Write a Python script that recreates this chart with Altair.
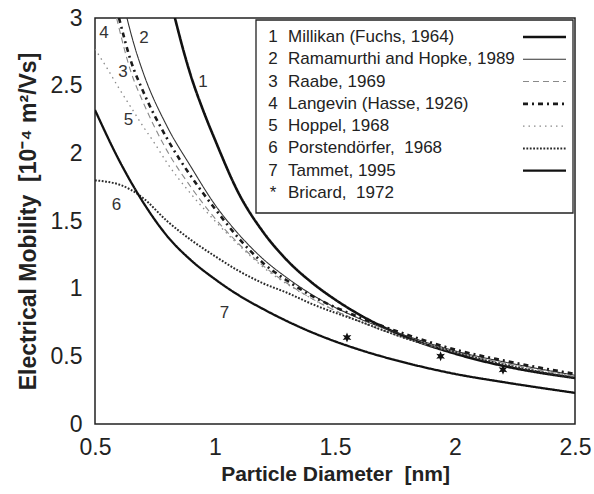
import altair as alt
import pandas as pd

FONT = "Liberation Sans"
NB = "\u00a0"

# ---- data ----
series_names = ["Millikan", "Ramamurthi", "Raabe", "Langevin", "Hoppel", "Porstendorfer", "Tammet"]

millikan_d = [0.833, 0.87, 0.9, 0.95, 1.0, 1.1, 1.2, 1.3, 1.4, 1.5, 1.6, 1.8, 2.0, 2.2, 2.5]
millikan_m = [3.0, 2.75, 2.57, 2.32, 2.10, 1.70, 1.42, 1.21, 1.05, 0.92, 0.81, 0.64, 0.52, 0.43, 0.34]

ramamurthi_d = [0.633, 0.66, 0.7, 0.8, 0.9, 1.0, 1.1, 1.2, 1.3, 1.4, 1.6, 1.8, 2.0, 2.2, 2.5]
ramamurthi_m = [3.0, 2.82, 2.60, 2.20, 1.90, 1.62, 1.40, 1.22, 1.08, 0.96, 0.78, 0.65, 0.54, 0.46, 0.36]

raabe_d = [0.59, 0.65, 0.7, 0.8, 0.9, 1.0, 1.1, 1.2, 1.3, 1.4, 1.6, 1.8, 2.0, 2.2, 2.5]
raabe_m = [3.0, 2.60, 2.38, 2.02, 1.75, 1.52, 1.33, 1.17, 1.04, 0.93, 0.76, 0.63, 0.53, 0.45, 0.35]

langevin_d = [0.6, 0.65, 0.7, 0.8, 0.9, 1.0, 1.1, 1.2, 1.3, 1.4, 1.6, 1.8, 2.0, 2.2, 2.5]
langevin_m = [3.0, 2.68, 2.46, 2.11, 1.83, 1.59, 1.37, 1.19, 1.06, 0.95, 0.79, 0.66, 0.55, 0.47, 0.37]

hoppel_d = [0.5, 0.55, 0.6, 0.65, 0.7, 0.75, 0.8, 0.9, 1.0, 1.1, 1.2, 1.4, 1.6, 1.8, 2.0, 2.2, 2.5]
hoppel_m = [2.77, 2.63, 2.48, 2.34, 2.20, 2.07, 1.93, 1.70, 1.50, 1.32, 1.16, 0.93, 0.76, 0.63, 0.53, 0.45, 0.35]

porst_d = [0.5, 0.55, 0.6, 0.65, 0.7, 0.8, 0.9, 1.0, 1.1, 1.2, 1.3, 1.4, 1.6, 1.8, 2.0, 2.2, 2.5]
porst_m = [1.80, 1.79, 1.77, 1.73, 1.67, 1.50, 1.36, 1.24, 1.13, 1.04, 0.97, 0.89, 0.76, 0.63, 0.53, 0.44, 0.34]

tammet_d = [0.5, 0.6, 0.7, 0.8, 0.9, 1.0, 1.1, 1.2, 1.3, 1.4, 1.6, 1.8, 2.0, 2.2, 2.5]
tammet_m = [2.32, 1.95, 1.64, 1.39, 1.21, 1.07, 0.95, 0.85, 0.76, 0.68, 0.55, 0.45, 0.37, 0.31, 0.23]

bricard_d = [1.55, 1.94, 2.2]
bricard_m = [0.64, 0.50, 0.40]

curve_label_text = ["1", "2", "3", "4", "5", "6", "7"]
curve_label_d = [0.95, 0.704, 0.617, 0.537, 0.639, 0.59, 1.04]
curve_label_m = [2.53, 2.85, 2.60, 2.89, 2.25, 1.62, 0.82]

legend_nums = ["1", "2", "3", "4", "5", "6", "7", "*"]
legend_labels = ["Millikan (Fuchs, 1964)", "Ramamurthi and Hopke, 1989", "Raabe, 1969",
                 "Langevin (Hasse, 1926)", "Hoppel, 1968", "Porstendörfer," + NB + " 1968",
                 "Tammet, 1995", "Bricard," + NB + " 1972"]

x_ticks = [0.5, 1, 1.5, 2, 2.5]
y_ticks = [0, 0.5, 1, 1.5, 2, 2.5, 3]

# ---- tables ----
all_d = [millikan_d, ramamurthi_d, raabe_d, langevin_d, hoppel_d, porst_d, tammet_d]
all_m = [millikan_m, ramamurthi_m, raabe_m, langevin_m, hoppel_m, porst_m, tammet_m]
rows = []
for name, ds, ms in zip(series_names, all_d, all_m):
    for i, (d, m) in enumerate(zip(ds, ms)):
        rows.append({"series": name, "d": d, "m": m, "o": i})
curves = pd.DataFrame(rows)
stars = pd.DataFrame({"d": bricard_d, "m": bricard_m})
labels = pd.DataFrame({"d": curve_label_d, "m": curve_label_m, "t": curve_label_text})
leg = pd.DataFrame({"row": list(range(len(legend_nums))), "num": legend_nums, "label": legend_labels})
leg_lines = pd.DataFrame({"row": list(range(len(series_names))), "series": series_names})

# ---- styles ----
dash_scale = alt.Scale(domain=series_names,
                       range=[[1, 0], [1, 0], [6, 4], [5, 4, 2, 4], [1.5, 4], [1.8, 1.6], [1, 0]])
width_scale = alt.Scale(type="ordinal", domain=series_names, range=[2.6, 1.1, 1.1, 2.6, 1.3, 2.0, 2.3])
color_scale = alt.Scale(domain=series_names,
                        range=["#111111", "#333333", "#8a8a8a", "#1a1a1a", "#8a8a8a", "#2a2a2a", "#111111"])

xs = alt.Scale(domain=[0.5, 2.5], nice=False, zero=False)
ys = alt.Scale(domain=[0, 3], nice=False)

x_enc = alt.X("d:Q", scale=xs, axis=alt.Axis(values=x_ticks, format="~g",
                                             title="Particle Diameter" + NB + " [nm]"))
y_enc = alt.Y("m:Q", scale=ys, axis=alt.Axis(values=y_ticks, format="~g",
                                             title="Electrical Mobility" + NB + " [10⁻⁴ m²/Vs]"))

lines = alt.Chart(curves).mark_line(interpolate="monotone", clip=True).encode(
    x=x_enc, y=y_enc,
    detail="series:N",
    order="o:Q",
    strokeDash=alt.StrokeDash("series:N", scale=dash_scale, legend=None),
    strokeWidth=alt.StrokeWidth("series:N", scale=width_scale, legend=None),
    color=alt.Color("series:N", scale=color_scale, legend=None),
)

star_path = "M0,-1L0.25,-0.4L0.87,-0.5L0.45,0L0.87,0.5L0.25,0.4L0,1L-0.25,0.4L-0.87,0.5L-0.45,0L-0.87,-0.5L-0.25,-0.4Z"
star_pts = alt.Chart(stars).mark_point(shape=star_path, filled=True, size=100, color="#111111", opacity=1).encode(
    x=alt.X("d:Q", scale=xs), y=alt.Y("m:Q", scale=ys))

curve_labels = alt.Chart(labels).mark_text(font=FONT, fontSize=17, color="#333333").encode(
    x=alt.X("d:Q", scale=xs), y=alt.Y("m:Q", scale=ys), text="t:N")

main = alt.layer(lines, star_pts, curve_labels)

# ---- hand-built legend box ----
ly = alt.Scale(domain=[0, 7], range=[19, 175])
box = alt.Chart(pd.DataFrame({"a": [0]})).mark_rect(fill="white", stroke="#222222", strokeWidth=1.3).encode(
    x=alt.value(161), x2=alt.value(478), y=alt.value(2), y2=alt.value(195))
leg_num = alt.Chart(leg).mark_text(font=FONT, fontSize=17, align="center", baseline="middle", color="#222222").encode(
    x=alt.value(178), y=alt.Y("row:Q", scale=ly, axis=None), text="num:N")
leg_txt = alt.Chart(leg).mark_text(font=FONT, fontSize=17, align="left", baseline="middle", color="#222222").encode(
    x=alt.value(193), y=alt.Y("row:Q", scale=ly, axis=None), text="label:N")
leg_rule = alt.Chart(leg_lines).mark_rule().encode(
    x=alt.value(428), x2=alt.value(471), y=alt.Y("row:Q", scale=ly, axis=None),
    strokeDash=alt.StrokeDash("series:N", scale=dash_scale, legend=None),
    strokeWidth=alt.StrokeWidth("series:N", scale=width_scale, legend=None),
    color=alt.Color("series:N", scale=color_scale, legend=None),
)
legend = alt.layer(box, leg_num, leg_txt, leg_rule)

chart = alt.layer(main, legend).resolve_scale(y="independent").properties(
    width=480, height=406,
    autosize=alt.AutoSizeParams(type="none"),
    padding={"left": 95, "top": 18, "right": 19, "bottom": 70},
    background="white",
).configure_view(stroke="#222222", strokeWidth=1.5).configure_axis(
    grid=False, ticks=False, domain=False, labelFlush=False,
    labelFont=FONT, labelFontSize=23, labelColor="#222222",
    titleFont=FONT, titleFontWeight="bold", titleColor="#222222",
).configure_axisX(labelPadding=12, titlePadding=4, titleFontSize=21).configure_axisY(
    labelPadding=13, titlePadding=10, titleFontSize=23)

chart.save("out.html", embed_options={"renderer": "svg", "actions": False})
